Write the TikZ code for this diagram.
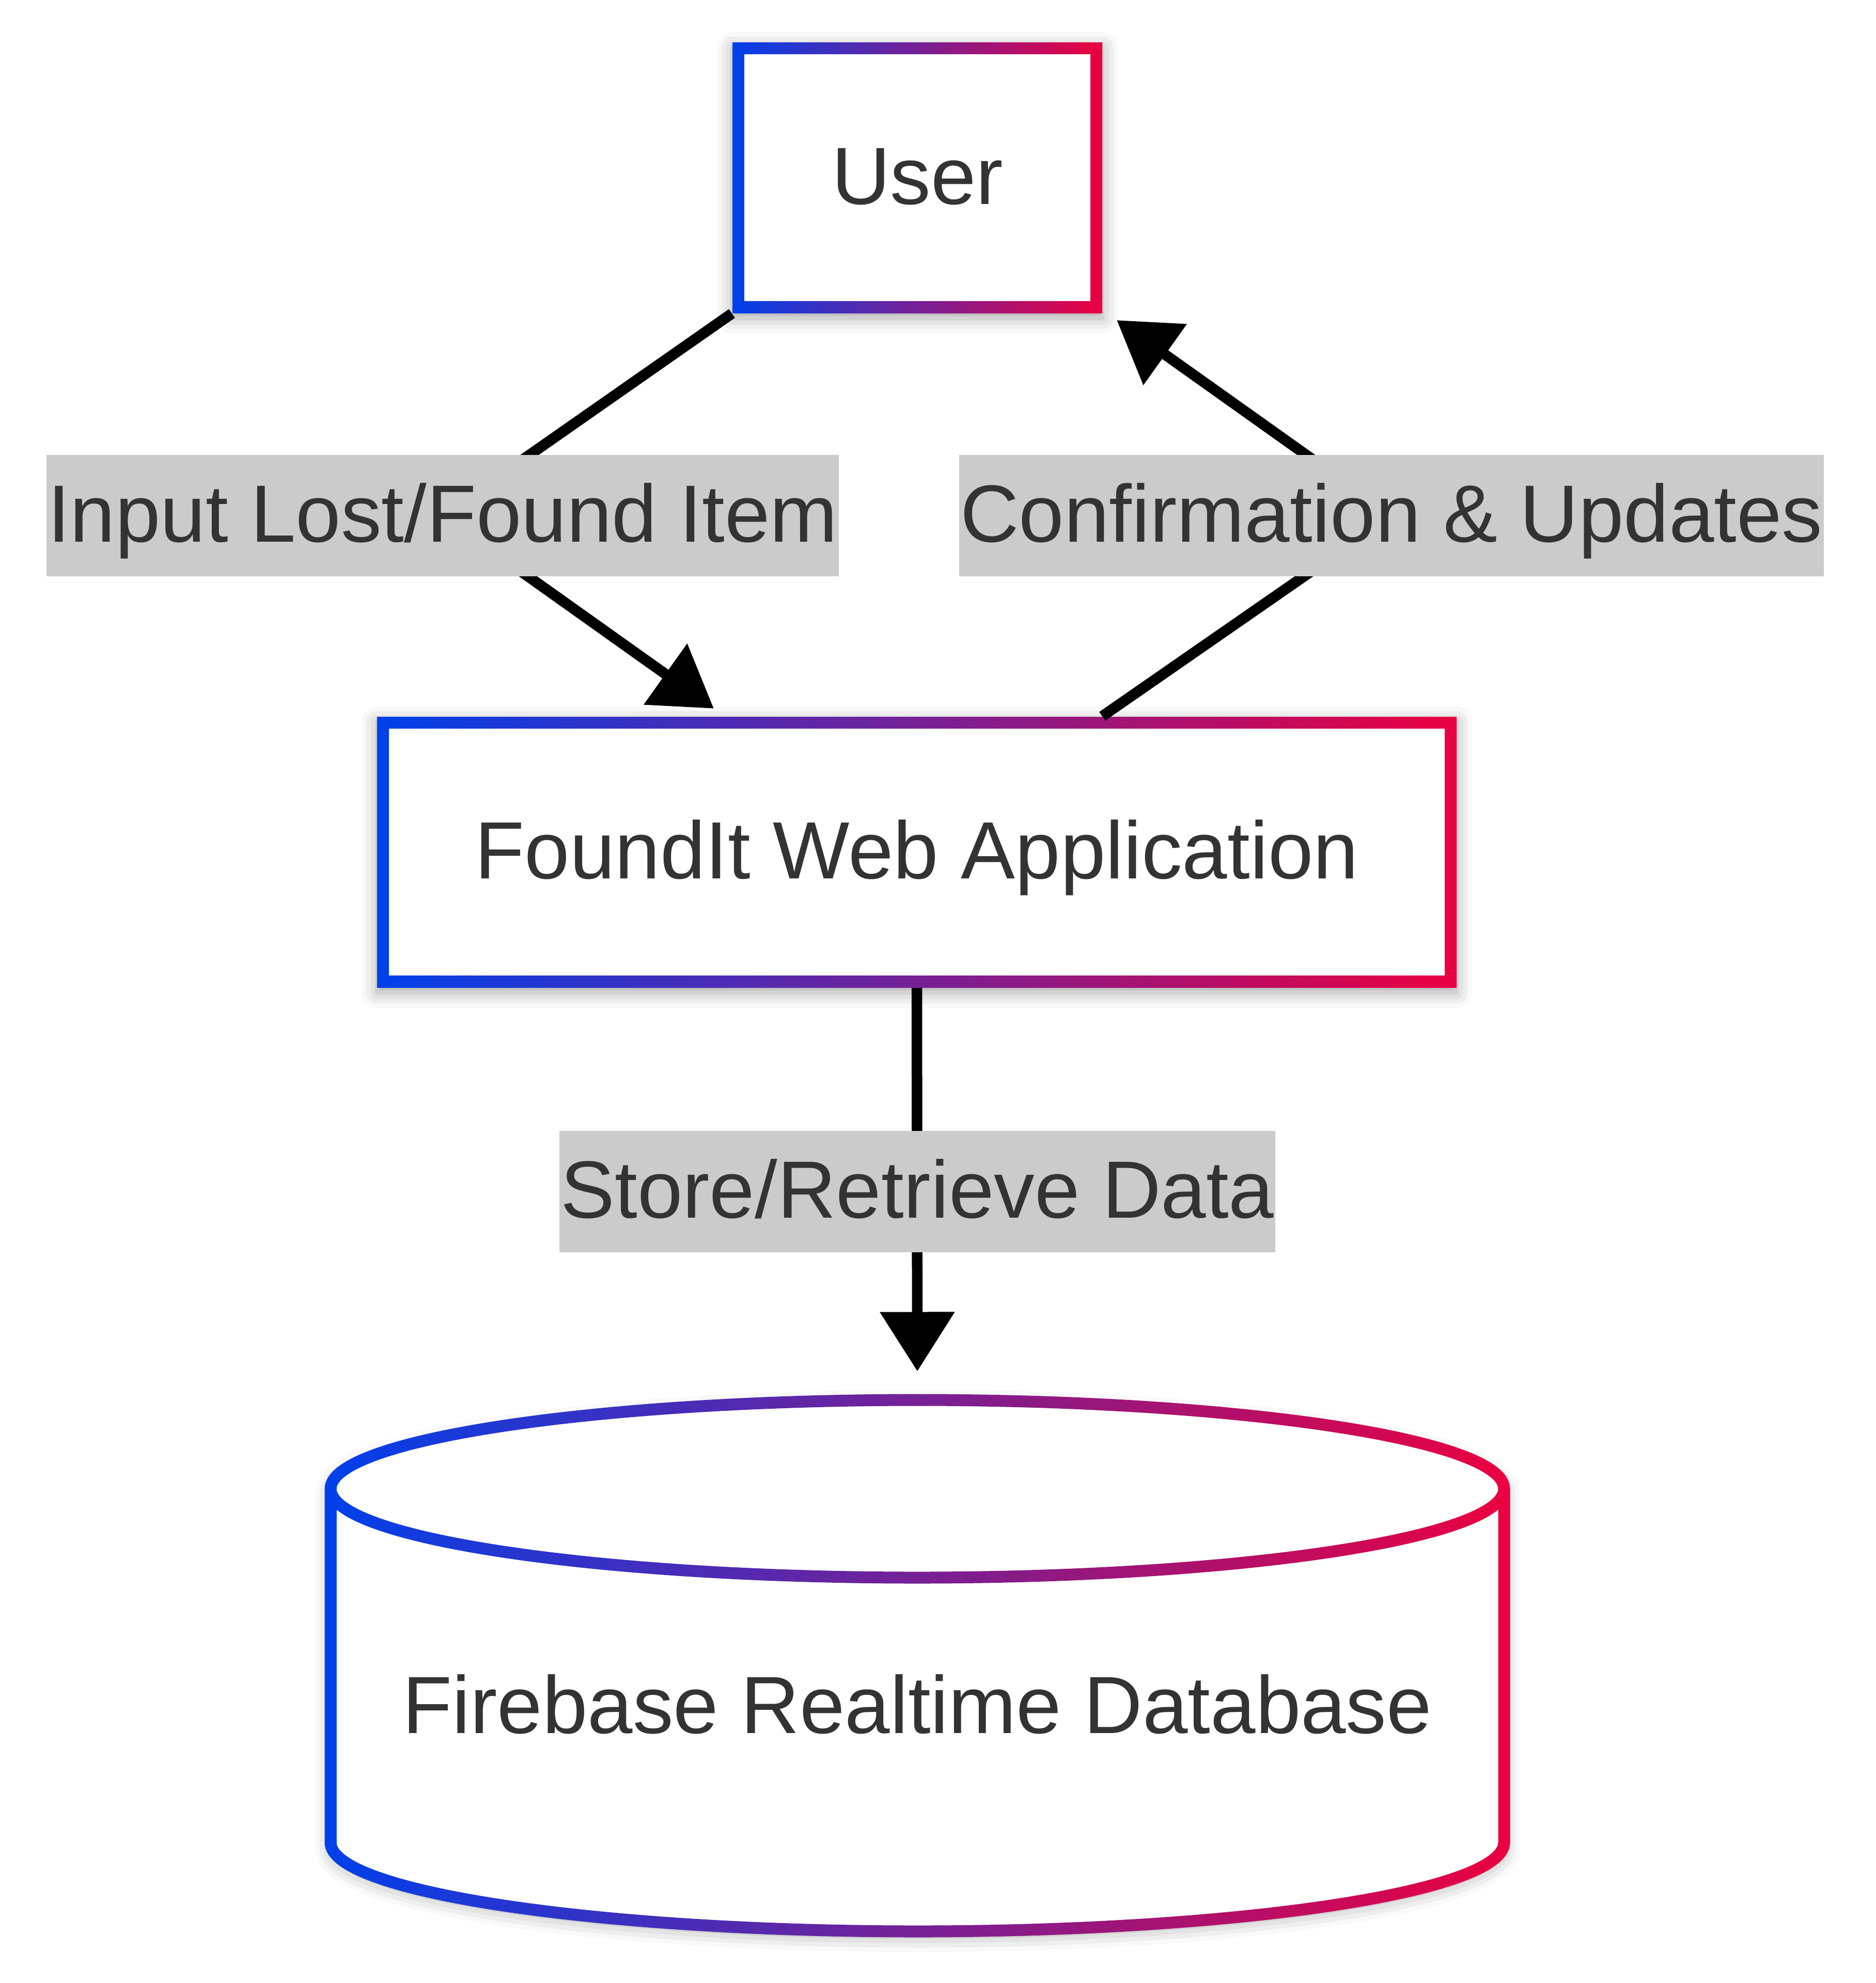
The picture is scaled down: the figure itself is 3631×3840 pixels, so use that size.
\documentclass[tikz,border=0pt]{standalone}
\usepackage{fontspec}
\setmainfont{Liberation Sans}
\usetikzlibrary{arrows.meta,shadows.blur,calc}
\definecolor{gblue}{RGB}{0,64,235}
\definecolor{gred}{RGB}{235,0,64}
\definecolor{txt}{RGB}{51,51,51}
\definecolor{lblbg}{RGB}{203,203,203}
\newcommand\cylpath[1]{\draw[#1] (640,2883) -- (640,3568) .. controls (640,3663) and (1148.6,3740) .. (1776,3740) .. controls (2403.4,3740) and (2912,3663) .. (2912,3568) -- (2912,2883) (1776,2883) ellipse [x radius=1136, y radius=172];}
\begin{document}
\begin{tikzpicture}[x=0.2pt,y=-0.2pt,
  txtfont/.style={font=\fontsize{31.45pt}{37.7pt}\selectfont, text=txt, text height=28.3pt, text depth=7.85pt},
  shadowstyle/.style={blur shadow={shadow xshift=0pt, shadow yshift=-2pt, shadow blur radius=6pt, shadow opacity=35}},
  gbox/.style={txtfont, rectangle, inner sep=0pt, left color=gblue, right color=gred, shadowstyle,
    path picture={\fill[white] ([shift={(4.6pt,-4.6pt)}]path picture bounding box.north west) rectangle ([shift={(-4.6pt,4.6pt)}]path picture bounding box.south east);}},
  lbl/.style={txtfont, fill=lblbg, inner xsep=0.5pt, inner ysep=0pt, minimum height=47pt},
  conn/.style={draw=black, line width=4.1pt, -{Triangle[length=23pt, width=28pt]}}
]
\useasboundingbox (0,0) rectangle (3631,3840);

% nodes
\node[gbox, minimum width=143.2pt, minimum height=104.8pt] (user) at (1776,344) {User};
\node[gbox, minimum width=418pt, minimum height=104.8pt] (app) at (1775,1650) {FoundIt Web Application};

% cylinder
\path[fill=white, shadowstyle] (640,2883) -- (640,3568) .. controls (640,3663) and (1148.6,3740) .. (1776,3740) .. controls (2403.4,3740) and (2912,3663) .. (2912,3568) -- (2912,2883) .. controls (2912,2788) and (2403.4,2711) .. (1776,2711) .. controls (1148.6,2711) and (640,2788) .. (640,2883) -- cycle;
\foreach \i in {0,...,99} {
  \pgfmathsetmacro\xa{628+22.96*\i}
  \pgfmathsetmacro\xb{\xa+23.6}
  \pgfmathsetmacro\pp{\i+0.5}
  \colorlet{slicecol}{gred!\pp!gblue}
  \begin{scope}
    \clip (\xa,2690) rectangle (\xb,3760);
    \cylpath{draw=slicecol, line width=4.6pt}
  \end{scope}
}
\node[inner sep=0pt, minimum width=459.2pt, minimum height=210.4pt] (db) at (1776,3225.5) {};
\node[txtfont] (dbtext) at (1776,3305) {Firebase Realtime Database};

% connectors
\coordinate (v1) at (857,998.5);
\coordinate (v2) at (2694,998.5);
\coordinate (v3) at (1776,2307.5);
\draw[conn] (user.south west) -- (v1) -- ([shift={(653,-15)}]app.north west);
\draw[conn] ([shift={(1405,0)}]app.north west) -- (v2) -- ([shift={(27,13)}]user.south east);
\draw[conn] (app.south) -- ([shift={(0,-43)}]db.north);

% edge labels
\node[lbl] (l1) at (v1) {Input Lost/Found Item};
\node[lbl] (l2) at (v2) {Confirmation \& Updates};
\node[lbl] (l3) at (v3) {Store/Retrieve Data};
\end{tikzpicture}
\end{document}
